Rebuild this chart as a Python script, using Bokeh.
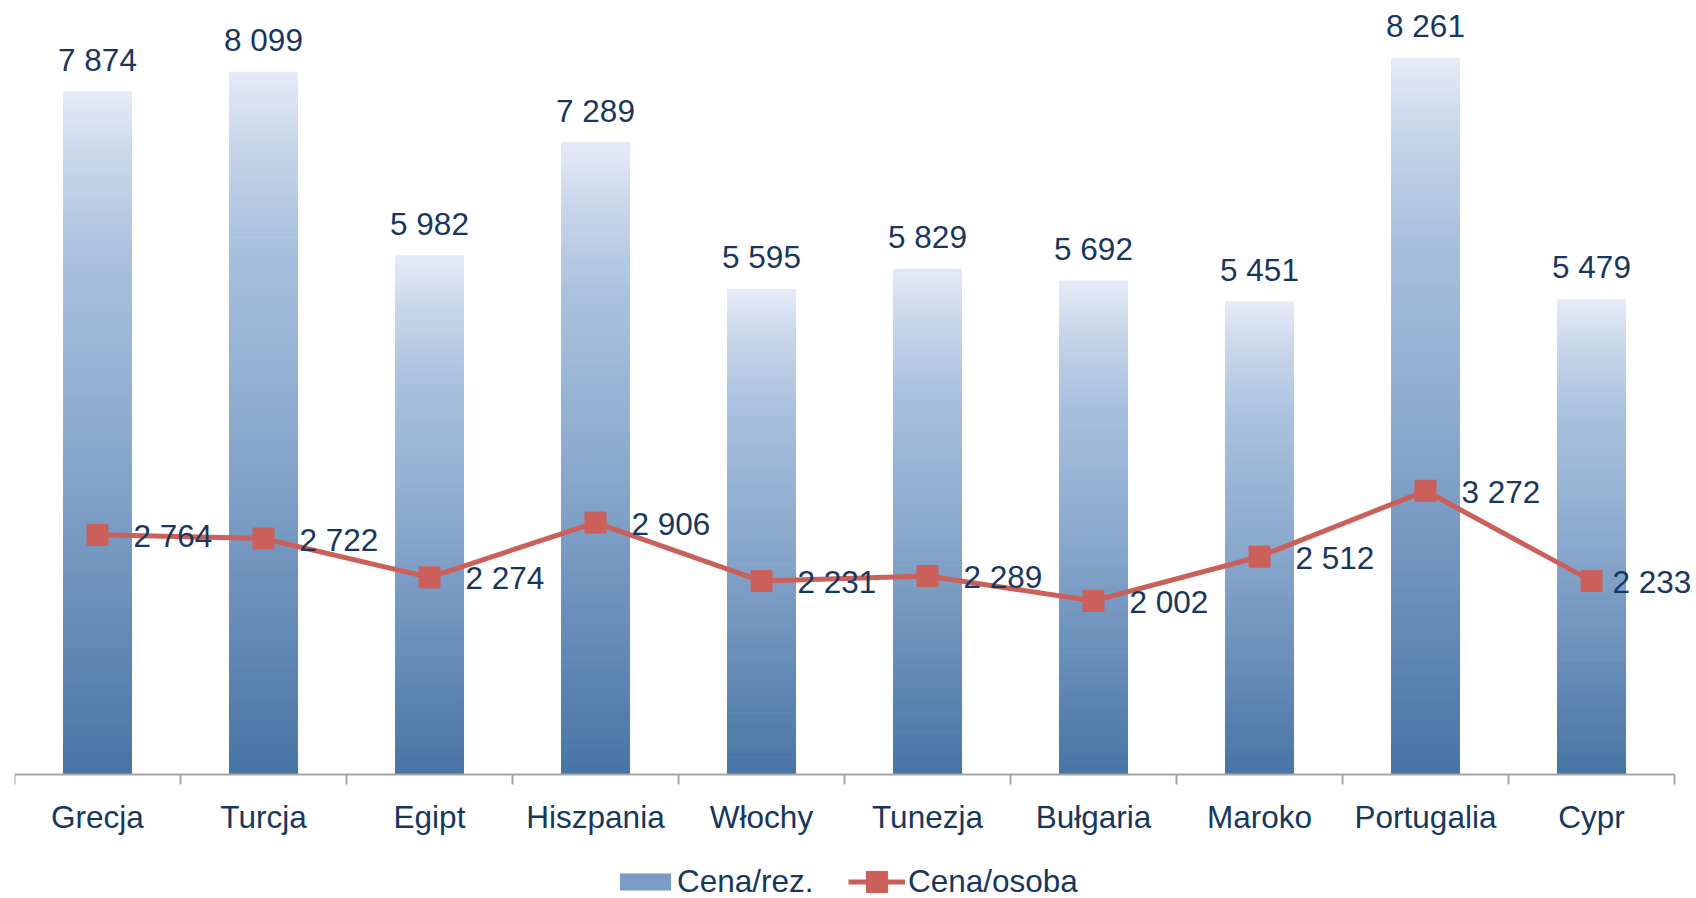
from bokeh.plotting import figure
from bokeh.models import (ColumnDataSource, Range1d, LinearAxis, FixedTicker,
                          LabelSet, Legend, LegendItem)
from bokeh.core.properties import value
from bokeh.embed import file_html
from bokeh.resources import INLINE

# ---- data ----
countries = ["Grecja", "Turcja", "Egipt", "Hiszpania", "Włochy",
             "Tunezja", "Bułgaria", "Maroko", "Portugalia", "Cypr"]
cena_rez = [7874, 8099, 5982, 7289, 5595, 5829, 5692, 5451, 8261, 5479]
cena_osoba = [2764, 2722, 2274, 2906, 2231, 2289, 2002, 2512, 3272, 2233]

FONT = "Liberation Sans"
FS = "31.5px"
TXT = "#17375E"
RED = "#CB605A"

def fmt(v):
    return f"{v:,}".replace(",", " ")

xs = [i + 0.5 for i in range(len(countries))]

# gradient stops: fraction from bottom -> rgb
stops = [(0.0, (72, 116, 165)), (0.25, (106, 143, 186)), (0.5, (140, 170, 206)),
         (0.75, (168, 192, 222)), (0.9, (200, 214, 234)), (1.0, (228, 235, 246))]

def grad(t):
    for (t0, c0), (t1, c1) in zip(stops[:-1], stops[1:]):
        if t0 <= t <= t1:
            f = (t - t0) / (t1 - t0)
            r, g, b = (round(a + (bb - a) * f) for a, bb in zip(c0, c1))
            return f"#{r:02x}{g:02x}{b:02x}"
    return "#%02x%02x%02x" % stops[-1][1]

N = 140
gx, gb, gt, gc = [], [], [], []
for x, v in zip(xs, cena_rez):
    for k in range(N):
        gx.append(x)
        gb.append(v * k / N)
        gt.append(v * (k + 1) / N)
        gc.append(grad((k + 0.5) / N))
bar_src = ColumnDataSource(dict(x=gx, bottom=gb, top=gt, color=gc))

p = figure(frame_width=1682, frame_height=898,
           min_border_left=14, min_border_right=0, min_border_top=0, min_border_bottom=0,
           x_range=Range1d(0, 10 * 1682 / 1660), y_range=Range1d(-1430, 8927),
           x_axis_location=None, y_axis_location=None,
           output_backend="svg", toolbar_location=None)
p.outline_line_color = None
p.xgrid.visible = False
p.ygrid.visible = False
p.background_fill_color = "white"
p.border_fill_color = "white"

bars = p.vbar(x="x", bottom="bottom", top="top", width=0.41, source=bar_src,
              fill_color="color", line_color="color", line_width=1)

# label offsets (last label is pulled in so it fits the chart area)
label_dx = [36] * (len(countries) - 1) + [21]
line_src = ColumnDataSource(dict(x=xs, y=cena_osoba, label=[fmt(v) for v in cena_osoba],
                                 dx=label_dx))
ln = p.line("x", "y", source=line_src, line_color=RED, line_width=5)
mk = p.scatter("x", "y", source=line_src, marker="square", size=21,
               fill_color=RED, line_color=RED)

top_src = ColumnDataSource(dict(x=xs, y=cena_rez, label=[fmt(v) for v in cena_rez]))
p.add_layout(LabelSet(x="x", y="y", text="label", source=top_src, text_align="center",
                      text_baseline="alphabetic", y_offset=21, text_font=value(FONT),
                      text_font_size=FS, text_color=TXT))
p.add_layout(LabelSet(x="x", y="y", text="label", source=line_src, text_align="left",
                      text_baseline="middle", x_offset="dx", y_offset=-1, text_font=value(FONT),
                      text_font_size=FS, text_color=TXT))

ax = LinearAxis(ticker=FixedTicker(ticks=xs, minor_ticks=list(range(len(countries) + 1))),
                fixed_location=0, bounds=(0, len(countries)))
ax.major_label_overrides = {x: c for x, c in zip(xs, countries)}
ax.major_tick_line_color = None
ax.major_tick_out = 10
ax.major_tick_in = 0
ax.minor_tick_line_color = "#A6A6A6"
ax.minor_tick_line_width = 2
ax.minor_tick_out = 10
ax.minor_tick_in = 0
ax.axis_line_color = "#A6A6A6"
ax.axis_line_width = 2
ax.major_label_standoff = 14
ax.major_label_text_font = FONT
ax.major_label_text_font_size = FS
ax.major_label_text_color = TXT
p.add_layout(ax, "below")

# legend swatch for bars
leg_bar = p.vbar(x=[-5], top=[1], width=0.1, fill_color="#7A9CC6", line_color=None)
common = dict(orientation="horizontal", padding=0, margin=0, border_line_color=None,
              background_fill_alpha=0, label_text_font=FONT, label_text_font_size=FS,
              label_text_color=TXT)
legend1 = Legend(items=[LegendItem(label="Cena/rez.", renderers=[leg_bar])],
                 location=(599, -2), glyph_width=64, glyph_height=21, label_standoff=0,
                 **common)
legend2 = Legend(items=[LegendItem(label="Cena/osoba", renderers=[ln, mk])],
                 location=(834, -10), glyph_width=57, glyph_height=53, label_standoff=3,
                 **common)
p.add_layout(legend1, "center")
p.add_layout(legend2, "center")

open("out.html", "w").write(file_html(p, INLINE))
